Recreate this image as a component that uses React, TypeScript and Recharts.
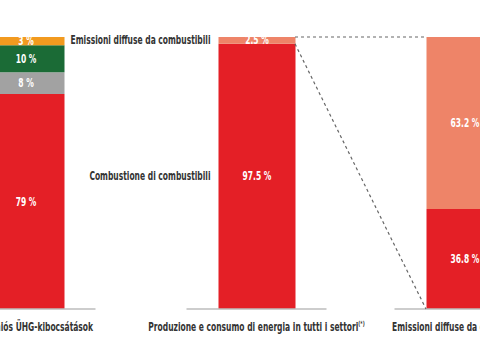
import React from 'react';
import { BarChart, Bar, XAxis, YAxis, Cell, LabelList, ReferenceLine } from 'recharts';

// data
const categories = ['Összes uniós ÜHG-kibocsátások', 'Produzione e consumo di energia in tutti i settori', 'Emissioni diffuse da combustibili'];
const notes = ['', '(*)', ''];
const baseShare = [79, 97.5, 36.8];
const secondShare = [8, 2.5, 63.2];
const thirdShare = [10, 0, 0];
const topShare = [3, 0, 0];
const middleNames = ['Combustione di combustibili', 'Emissioni diffuse da combustibili'];

// layout: where each bar sits on the (pixel-scaled) x axis
const slots = [25.5, 256.5, 464.5];
const BAR = 77;
const HALF = BAR / 2;

const RED = '#E41F26';
const SALMON = '#EE8468';
const GRAY = '#A2A2A2';
const GREEN = '#1B6B36';
const ORANGE = '#F29A1F';
const FONT = "'DejaVu Sans Condensed', 'DejaVu Sans', sans-serif";
const SQUEEZE = 0.7; // the original uses a very narrow bold face

const data = categories.map((name, i) => ({
  name,
  pos: slots[i],
  base: baseShare[i],
  second: secondShare[i],
  third: thirdShare[i],
  top: topShare[i],
}));

const secondColors = [GRAY, SALMON, SALMON];

const NarrowText = ({ x, y, anchor, fill, children }: any) => (
  <text
    transform={`translate(${x},${y}) scale(${SQUEEZE},1)`}
    textAnchor={anchor}
    fontFamily={FONT}
    fontWeight="bold"
    fontSize={12}
    fill={fill}
  >
    {children}
  </text>
);

const CategoryTick = (props: any) => {
  const { x, y, payload } = props;
  const i = slots.indexOf(payload.value);
  if (i < 0) return null;
  return (
    <NarrowText x={x} y={y + 14} anchor="middle" fill="#333">
      {categories[i]}
      {notes[i] && <tspan fontSize={7} dy={-5}>{notes[i]}</tspan>}
    </NarrowText>
  );
};

const valueLabel = (props: any) => {
  const { x, y, width, height, value } = props;
  if (!value) return null;
  return (
    <NarrowText x={x + width / 2} y={y + height / 2 + 4} anchor="middle" fill="#fff">
      {`${value} %`}
    </NarrowText>
  );
};

const sideLabel = (name: string) => (props: any) => {
  const { x, y, height, index } = props;
  if (index !== 1) return null;
  return (
    <NarrowText x={x - 8} y={y + height / 2 + 4} anchor="end" fill="#333">
      {name}
    </NarrowText>
  );
};

export default function App() {
  return (
    <div style={{ position: 'absolute', left: 0, top: 0, width: 480, height: 360, background: '#fff' }}>
      <BarChart width={480} height={360} data={data} margin={{ top: 37, right: 0, bottom: 21, left: 0 }}>
        <XAxis
          type="number"
          dataKey="pos"
          domain={[0, 480]}
          ticks={slots}
          tick={<CategoryTick />}
          axisLine={false}
          tickLine={false}
          height={30}
          allowDataOverflow
        />
        <YAxis type="number" domain={[0, 100]} hide />
        {slots.map((p) => (
          <ReferenceLine
            key={`base-${p}`}
            segment={[{ x: p - 70, y: 0 }, { x: p + 70, y: 0 }]}
            stroke="#BDBDBD"
            strokeWidth={1.5}
            ifOverflow="visible"
          />
        ))}
        <ReferenceLine
          segment={[{ x: slots[1] + HALF, y: 100 }, { x: slots[2] - HALF, y: 100 }]}
          stroke="#666"
          strokeDasharray="3 3"
          strokeWidth={1.2}
          ifOverflow="visible"
        />
        <ReferenceLine
          segment={[{ x: slots[1] + HALF, y: baseShare[1] }, { x: slots[2] - HALF, y: 0 }]}
          stroke="#666"
          strokeDasharray="3 3"
          strokeWidth={1.2}
          ifOverflow="visible"
        />
        <Bar dataKey="base" stackId="a" barSize={BAR} fill={RED} isAnimationActive={false}>
          <LabelList dataKey="base" content={valueLabel} />
          <LabelList dataKey="base" content={sideLabel(middleNames[0])} />
        </Bar>
        <Bar dataKey="second" stackId="a" barSize={BAR} isAnimationActive={false}>
          {data.map((d, i) => (
            <Cell key={`c-${i}`} fill={secondColors[i]} />
          ))}
          <LabelList dataKey="second" content={valueLabel} />
          <LabelList dataKey="second" content={sideLabel(middleNames[1])} />
        </Bar>
        <Bar dataKey="third" stackId="a" barSize={BAR} fill={GREEN} isAnimationActive={false}>
          <LabelList dataKey="third" content={valueLabel} />
        </Bar>
        <Bar dataKey="top" stackId="a" barSize={BAR} fill={ORANGE} isAnimationActive={false}>
          <LabelList dataKey="top" content={valueLabel} />
        </Bar>
      </BarChart>
    </div>
  );
}
